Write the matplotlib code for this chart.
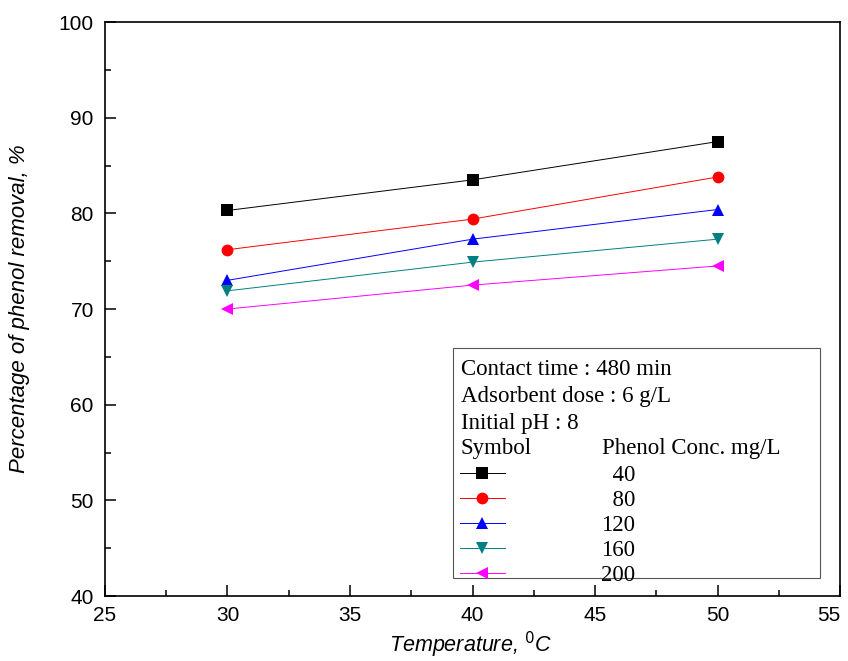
import matplotlib
matplotlib.use("Agg")
import matplotlib.pyplot as plt
from matplotlib.patches import Rectangle
from matplotlib.ticker import MultipleLocator

# Temperatura (°C) y porcentaje de remoción de fenol para cada concentración inicial
temperatura = [30, 40, 50]
conc_labels = ["  40", "  80", "120", "160", "200"]
rem_40 = [80.3, 83.5, 87.5]
rem_80 = [76.2, 79.4, 83.8]
rem_120 = [73.0, 77.3, 80.4]
rem_160 = [71.9, 74.9, 77.3]
rem_200 = [70.0, 72.5, 74.5]

series = [rem_40, rem_80, rem_120, rem_160, rem_200]
colores = ["black", "red", "blue", "#008080", "magenta"]
marcadores = ["s", "o", "^", "v", "<"]

fig = plt.figure(figsize=(8.48, 6.61), dpi=100)
ax = fig.add_axes([0.1238, 0.0983, 0.8668, 0.8684])

lineas = []
for y, c, m in zip(series, colores, marcadores):
    ln, = ax.plot(temperatura, y, color=c, marker=m, markersize=8.5,
                  linewidth=0.7, markeredgewidth=0)
    lineas.append(ln)

ax.set_xlim(25, 55)
ax.set_ylim(40, 100)
ax.set_xticks(range(25, 56, 5))
ax.xaxis.set_minor_locator(MultipleLocator(2.5))
ax.set_yticks(range(40, 101, 10))
ax.yaxis.set_minor_locator(MultipleLocator(5))
ax.tick_params(which="both", direction="in", top=False, right=False,
               labelsize=15, width=1.1)
ax.tick_params(which="major", length=8)
ax.tick_params(which="minor", length=4)
ax.tick_params(axis="y", pad=8)
ax.tick_params(axis="x", pad=7)
for lbl in ax.get_xticklabels() + ax.get_yticklabels():
    lbl.set_fontfamily("Liberation Sans")
# el rótulo 55 queda pegado al borde derecho: se alinea a la derecha
ax.get_xticklabels()[-1].set_horizontalalignment("right")
for s in ax.spines.values():
    s.set_linewidth(1.2)

ax.set_xlabel("Temperature, $^{0}$C", fontsize=15.5, style="italic",
              family="Liberation Sans")
ax.xaxis.label.set_verticalalignment("baseline")
ax.xaxis.set_label_coords(0.497, -0.0985)
ax.set_ylabel("Percentage of phenol removal, %", fontsize=16, style="italic",
              family="Liberation Sans")
ax.yaxis.set_label_coords(-0.102, 0.5)

# Recuadro con condiciones experimentales y simbología
ax.add_patch(Rectangle((0.473, 0.031), 0.500, 0.401, transform=ax.transAxes,
                       fill=False, edgecolor="#555555", linewidth=0.8))
fuente = dict(family="Liberation Serif", fontsize=16.5, va="center",
              transform=ax.transAxes)
ax.text(0.484, 0.395, "Contact time : 480 min", **fuente)
ax.text(0.484, 0.348, "Adsorbent dose : 6 g/L", **fuente)
ax.text(0.484, 0.301, "Initial pH : 8", **fuente)
ax.text(0.484, 0.257, "Symbol", **fuente)
ax.text(0.676, 0.257, "Phenol Conc. mg/L", **fuente)

ax.legend(lineas, conc_labels, loc="upper left", bbox_to_anchor=(0.483, 0.2285),
          frameon=False, prop={"family": "Liberation Serif", "size": 16.5},
          borderpad=0, borderaxespad=0, handlelength=1.95, handletextpad=4.2,
          labelspacing=0.17)

fig.savefig("out.png", dpi=100)
